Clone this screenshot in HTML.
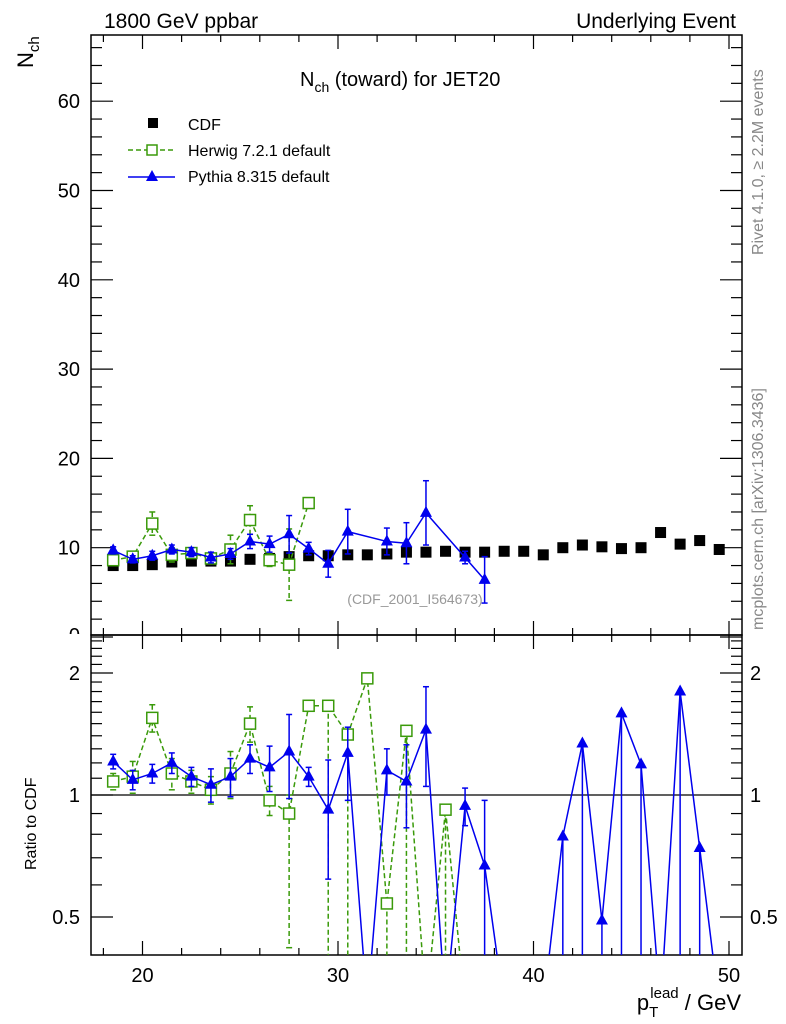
<!DOCTYPE html>
<html><head><meta charset="utf-8"><style>
html,body{margin:0;padding:0;background:#fff;width:786px;height:1024px;overflow:hidden;position:relative;}
svg{display:block;font-family:"Liberation Sans",sans-serif;}
</style></head><body>
<svg id="c" width="786" height="1024" viewBox="0 0 786 1024" style="position:absolute;left:0;top:0">
<defs>
<clipPath id="cm"><rect x="91" y="35" width="651" height="600"/></clipPath>
<clipPath id="cr"><rect x="91" y="635" width="651" height="320"/></clipPath>
<clipPath id="zc"><rect x="0" y="0" width="90" height="634"/></clipPath>
</defs>
<g id="g"></g>
</svg>
<script>
const cdfX=[18.5,19.5,20.5,21.5,22.5,23.5,24.5,25.5,26.5,27.5,28.5,29.5,30.5,31.5,32.5,33.5,34.5,35.5,36.5,37.5,38.5,39.5,40.5,41.5,42.5,43.5,44.5,45.5,46.5,47.5,48.5,49.5];
const cdfY=[8.0,8.0,8.1,8.4,8.5,8.5,8.5,8.7,8.8,9.0,9.1,9.1,9.2,9.2,9.3,9.5,9.5,9.6,9.5,9.5,9.6,9.6,9.2,10.0,10.3,10.1,9.9,10.0,11.7,10.4,10.8,9.8];
const hwX=[18.5,19.5,20.5,21.5,22.5,23.5,24.5,25.5,26.5,27.5,28.5];
const hwY=[8.6,9.0,12.7,9.2,9.4,8.8,9.8,13.1,8.6,8.1,15.0];
const hwE=[0.4,0.6,1.3,0.8,0.4,0.6,1.6,1.6,0.7,4.0,0.3];
const pyX=[18.5,19.5,20.5,21.5,22.5,23.5,24.5,25.5,26.5,27.5,28.5,29.5,30.5,32.5,33.5,34.5,36.5,37.5];
const pyY=[9.7,8.7,9.1,9.8,9.5,8.9,9.3,10.7,10.4,11.5,9.9,8.2,11.8,10.7,10.5,13.9,8.9,6.4];
const pyE=[0.4,0.4,0.5,0.5,0.5,0.6,0.6,0.8,0.9,2.1,0.7,1.5,2.5,1.5,2.3,3.6,0.7,2.6];
const hwRX=[18.5,19.5,20.5,21.5,22.5,23.5,24.5,25.5,26.5,27.5,28.5,29.5,30.5,31.5,32.5,33.5,34.5,35.5,36.5];
const hwR=[1.08,1.11,1.55,1.13,1.08,1.03,1.13,1.50,0.97,0.90,1.66,1.66,1.41,1.94,0.54,1.44,0.3,0.92,0.3];
const hwRLo=[0.05,0.1,0.12,0.1,0.07,0.08,0.15,0.15,0.08,0.48,0.05,1.5,1.4,0.05,0.3,1.3,0,0.8,0];
const hwRHi=[0.05,0.1,0.12,0.1,0.07,0.08,0.15,0.15,0.08,0.1,0.05,0,0,0.05,0,0,0,0,0];
const pyRX=[18.5,19.5,20.5,21.5,22.5,23.5,24.5,25.5,26.5,27.5,28.5,29.5,30.5,31.5,32.5,33.5,34.5,35.5,36.5,37.5,38.5,39.5,40.5,41.5,42.5,43.5,44.5,45.5,46.5,47.5,48.5,49.5];
const pyR=[1.21,1.09,1.13,1.20,1.11,1.06,1.11,1.23,1.17,1.28,1.11,0.92,1.27,0.3,1.15,1.08,1.45,0.3,0.94,0.67,0.3,0.3,0.3,0.79,1.34,0.49,1.59,1.19,0.3,1.80,0.74,0.3];
const pyRLo=[0.05,0.06,0.06,0.07,0.06,0.1,0.12,0.1,0.15,0.3,0.06,0.3,0.3,0,0.15,0.25,0.4,0,0.1,0.3,0,0,0,0.7,1.2,0.4,1.5,1.1,0,1.7,0.7,0];
const pyRHi=[0.05,0.06,0.06,0.07,0.06,0.1,0.12,0.1,0.15,0.3,0.06,0.3,0.2,0,0.15,0.25,0.4,0,0.1,0.3,0,0,0,0,0,0,0,0,0,0,0,0];
const xTicks=[20,30,40,50];
const yTicks=[10,20,30,40,50,60];
const rTicks=[0.5,1,2];

const NS="http://www.w3.org/2000/svg";
const G=document.getElementById('g');
const X=v=>142.5+(v-20)*19.55;
const Y=v=>637-v*8.93;
const R=v=>795-Math.log2(v)*122;
function el(tag,attrs,parent){const e=document.createElementNS(NS,tag);for(const k in attrs)e.setAttribute(k,attrs[k]);(parent||G).appendChild(e);return e;}
function txt(s,x,y,size,anchor,fill,parent){const t=el('text',{x:x,y:y,'font-size':size,'text-anchor':anchor||'start',fill:fill||'#000'},parent);t.textContent=s;return t;}

const fm=el('rect',{x:91,y:35,width:651,height:600,fill:'none',stroke:'#000','stroke-width':1.5});


const fr=el('rect',{x:91,y:635,width:651,height:320,fill:'none',stroke:'#000','stroke-width':1.5});



for(let v=18;v<=50;v+=2){const x=X(v);const maj=v%10===0;const L=maj?14:7;
 [[35,1],[635,-1],[635,1],[955,-1]].forEach(([y0,d])=>el('line',{x1:x,x2:x,y1:y0,y2:y0+d*L,stroke:'#000','stroke-width':1.2}));}
xTicks.forEach(v=>{const t=txt(String(v),X(v),982,20,'middle');
 
 });
for(let v=0;v<=66;v+=2){const y=Y(v);if(y<35)continue;const maj=v%10===0;const L=maj?22:11;
 el('line',{x1:91,x2:91+L,y1:y,y2:y,stroke:'#000','stroke-width':1.2});
 el('line',{x1:742,x2:742-L,y1:y,y2:y,stroke:'#000','stroke-width':1.2});}
yTicks.forEach(v=>{const t=txt(String(v),80,Y(v)+7,20,'end');
 
 });
const z=el('text',{x:80,y:642,'font-size':20,'text-anchor':'end','clip-path':'url(#zc)'});z.textContent='0';


const rMin=[0.5,0.6,0.7,0.8,0.9,1,1.1,1.2,1.3,1.4,1.5,1.6,1.7,1.8,1.9,2,2.1,2.2,2.3,2.4];
rMin.forEach(v=>{const y=R(v);const maj=rTicks.includes(v);const L=maj?22:11;
 el('line',{x1:91,x2:91+L,y1:y,y2:y,stroke:'#000','stroke-width':1.2});
 el('line',{x1:742,x2:742-L,y1:y,y2:y,stroke:'#000','stroke-width':1.2});});
rTicks.forEach(v=>{const t=txt(String(v),80,R(v)+7,20,'end');
 
 
 const t2=txt(String(v),750,R(v)+7,20,'start');
 
 });
const one=el('line',{x1:91,x2:742,y1:R(1),y2:R(1),stroke:'#000','stroke-width':1.2});



const gm=el('g',{'clip-path':'url(#cm)'});


function tri(x,y,p,c){return el('path',{d:`M${x},${y-7} L${x+6},${y+4} L${x-6},${y+4}Z`,fill:c},p);}
function series(xs,ys,lo,hi,mapY,floor,p,color,dash,marker,name){
 const pts=xs.map((x,i)=>X(x)+','+mapY(ys[i])).join(' ');
 const pl=el('polyline',{points:pts,fill:'none',stroke:color,'stroke-width':1.5,'stroke-dasharray':dash||'none'},p);
 
 
 xs.forEach((x,i)=>{const px=X(x);const py=mapY(ys[i]);
  if(lo[i]>0||hi[i]>0){const l=Math.max(ys[i]-lo[i],floor);const y1=mapY(ys[i]+hi[i]),y2=mapY(l);
   el('line',{x1:px,x2:px,y1:y1,y2:y2,stroke:color,'stroke-width':1.5,'stroke-dasharray':dash||'none'},p);
   if(hi[i]>0)el('line',{x1:px-3,x2:px+3,y1:y1,y2:y1,stroke:color,'stroke-width':1.5},p);
   el('line',{x1:px-3,x2:px+3,y1:y2,y2:y2,stroke:color,'stroke-width':1.5},p);}
  let m;
  if(marker==='sq')m=el('rect',{x:px-5.5,y:py-5.5,width:11,height:11,fill:'#fff',stroke:color,'stroke-width':1.5},p);
  else m=tri(px,py,p,color);
  
  });
}
cdfX.forEach((x,i)=>{const m=el('rect',{x:X(x)-5.5,y:Y(cdfY[i])-5.5,width:11,height:11,fill:'#000'},gm);
 
 });
series(hwX,hwY,hwE,hwE,Y,0,gm,'#3a9a0a','5,3','sq','herwig');
series(pyX,pyY,pyE,pyE,Y,0,gm,'#0000ee',null,'tri','pythia');

const gr=el('g',{'clip-path':'url(#cr)'});


series(hwRX,hwR,hwRLo,hwRHi,R,0.35,gr,'#3a9a0a','5,3','sq','herwig-ratio');
series(pyRX,pyR,pyRLo,pyRHi,R,0.35,gr,'#0000ee',null,'tri','pythia-ratio');
</script>
<svg width="786" height="1024" style="position:absolute;left:0;top:0;font-family:'Liberation Sans',sans-serif">
<text x="104" y="28" font-size="21">1800 GeV ppbar</text>
<text x="736" y="28" font-size="21" text-anchor="end">Underlying Event</text>
<text x="300" y="86" font-size="20">N<tspan font-size="14" dy="6">ch</tspan><tspan dy="-6"> (toward) for JET20</tspan></text>
<g transform="translate(33,68) rotate(-90)"><text x="0" y="0" font-size="22">N<tspan font-size="15" dy="6">ch</tspan></text></g>
<g transform="translate(36,870) rotate(-90)"><text x="0" y="0" font-size="16">Ratio to CDF</text></g>
<text x="741" y="1010" font-size="22" text-anchor="end">p<tspan font-size="15" dy="7">T</tspan><tspan font-size="15" dy="-19" dx="-8">lead</tspan><tspan dy="12"> / GeV</tspan></text>
<text x="415" y="604" font-size="14" fill="#999" text-anchor="middle">(CDF_2001_I564673)</text>
<g transform="translate(763,255) rotate(-90)"><text font-size="16" fill="#888">Rivet 4.1.0, ≥ 2.2M events</text></g>
<g transform="translate(763,630) rotate(-90)"><text font-size="16" fill="#888">mcplots.cern.ch [arXiv:1306.3436]</text></g>
<g>
<rect x="148" y="118" width="10" height="10" fill="#000"/>
<text x="188" y="130" font-size="16">CDF</text>
<line x1="128" y1="150" x2="175" y2="150" stroke="#3a9a0a" stroke-width="1.5" stroke-dasharray="5,3"/>
<rect x="147" y="145" width="10" height="10" fill="#fff" stroke="#3a9a0a" stroke-width="1.5"/>
<text x="188" y="156" font-size="16">Herwig 7.2.1 default</text>
<line x1="128" y1="177" x2="175" y2="177" stroke="#0000ee" stroke-width="1.5"/>
<path d="M152,170 L158,181 L146,181Z" fill="#0000ee"/>
<text x="188" y="182" font-size="16">Pythia 8.315 default</text>
</g>
</svg>
</body></html>
